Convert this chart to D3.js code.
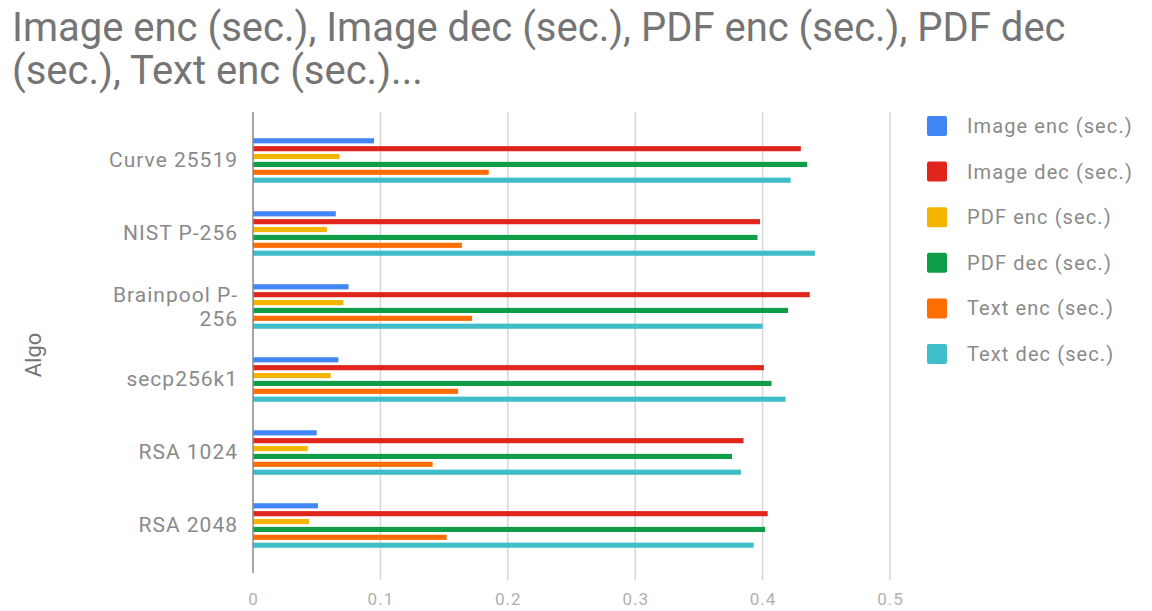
<!DOCTYPE html>
<html>
<head>
<meta charset="utf-8">
<script src="https://cdn.jsdelivr.net/npm/d3@7"></script>
<style>
  html, body { margin: 0; padding: 0; background: #fff; }
  svg { display: block; font-family: Roboto, "Noto Sans", Arial, sans-serif; }
</style>
</head>
<body>
<svg id="chart" width="1152" height="611"></svg>
<script>
const categories = ["Curve 25519", "NIST P-256", "Brainpool P-256", "secp256k1", "RSA 1024", "RSA 2048"];
const seriesNames = ["Image enc (sec.)", "Image dec (sec.)", "PDF enc (sec.)", "PDF dec (sec.)", "Text enc (sec.)", "Text dec (sec.)"];
const imageEnc = [0.095, 0.065, 0.075, 0.067, 0.050, 0.051];
const imageDec = [0.430, 0.398, 0.437, 0.401, 0.385, 0.404];
const pdfEnc   = [0.068, 0.058, 0.071, 0.061, 0.043, 0.044];
const pdfDec   = [0.435, 0.396, 0.420, 0.407, 0.376, 0.402];
const textEnc  = [0.185, 0.164, 0.172, 0.161, 0.141, 0.152];
const textDec  = [0.422, 0.441, 0.400, 0.418, 0.383, 0.393];
const xTicks = [0, 0.1, 0.2, 0.3, 0.4, 0.5];
const titleLines = ["Image enc (sec.), Image dec (sec.), PDF enc (sec.), PDF dec", "(sec.), Text enc (sec.)..."];
const yAxisTitle = "Algo";
const colors = ["#4285f4", "#e0261c", "#f4b400", "#0f9d48", "#ff6d00", "#3fbdc8"];

const seriesValues = [imageEnc, imageDec, pdfEnc, pdfDec, textEnc, textDec];

const svg = d3.select("#chart");

// Title
const title = svg.append("text")
  .attr("x", 12).attr("y", 41)
  .attr("fill", "#757575")
  .style("font-size", "40px");
title.selectAll("tspan").data(titleLines).join("tspan")
  .attr("x", 12)
  .attr("dy", (d, i) => i === 0 ? 0 : 43)
  .text(d => d);

// Scales
const x = d3.scaleLinear().domain([0, 0.5]).range([253, 890]);
const y0 = d3.scaleBand().domain(categories).range([124, 562]).paddingInner(0.39).paddingOuter(0.195);
const y1 = d3.scaleBand().domain(d3.range(seriesNames.length)).range([0, y0.bandwidth()]).paddingInner(0.35);

const plotTop = 112, plotBottom = 573;

// Gridlines
svg.append("g").selectAll("line")
  .data(xTicks.filter(t => t > 0)).join("line")
  .attr("x1", d => x(d)).attr("x2", d => x(d))
  .attr("y1", plotTop).attr("y2", 580)
  .attr("stroke", "#d6d6d6").attr("stroke-width", 1.5);

// X axis tick labels
const xAxis = d3.axisBottom(x).tickValues(xTicks).tickSize(0).tickPadding(0)
  .tickFormat(d => d === 0 ? "0" : d3.format(".1f")(d));
const gx = svg.append("g").attr("transform", `translate(0,593)`).call(xAxis);
gx.select(".domain").remove();
gx.selectAll("text").attr("fill", "#b0b0b0").style("font-size", "17px")
  .style("letter-spacing", "1px")
  .style("font-family", "Roboto, sans-serif");

// Bars
const groups = svg.append("g").selectAll("g")
  .data(categories).join("g")
  .attr("transform", d => `translate(0,${y0(d)})`);
groups.selectAll("rect")
  .data((c, ci) => seriesValues.map((vals, si) => ({ si, v: vals[ci] })))
  .join("rect")
  .attr("x", x(0))
  .attr("y", d => y1(d.si))
  .attr("width", d => x(d.v) - x(0))
  .attr("height", y1.bandwidth())
  .attr("fill", d => colors[d.si]);

// Baseline axis
svg.append("line")
  .attr("x1", x(0)).attr("x2", x(0))
  .attr("y1", plotTop).attr("y2", plotBottom)
  .attr("stroke", "#8a8a8a").attr("stroke-width", 1.5);

// Category labels (wrap long ones after the hyphen)
const yAxis = d3.axisLeft(y0).tickSize(0).tickPadding(0);
const gy = svg.append("g").attr("transform", `translate(238,0)`).call(yAxis);
gy.select(".domain").remove();
gy.selectAll("text")
  .attr("fill", "#8a8a8a").style("font-size", "21px")
  .style("letter-spacing", "1px")
  .style("font-family", "Roboto, sans-serif")
  .each(function(d) {
    const t = d3.select(this);
    if (d.length > 12 && d.lastIndexOf("-") > 0) {
      const k = d.lastIndexOf("-") + 1;
      const parts = [d.slice(0, k), d.slice(k)];
      t.text(null).attr("dy", null);
      parts.forEach((p, i) => {
        t.append("tspan").attr("x", 0)
          .attr("dy", i === 0 ? "-0.22em" : "1.15em").text(p);
      });
    }
  });

// Y axis title
svg.append("text")
  .attr("transform", "translate(41,355) rotate(-90)")
  .attr("text-anchor", "middle")
  .attr("fill", "#757575").style("font-size", "22px")
  .text(yAxisTitle);

// Legend
const legend = svg.append("g").selectAll("g")
  .data(seriesNames).join("g")
  .attr("transform", (d, i) => `translate(927,${116 + i * 45.6})`);
legend.append("rect").attr("width", 20).attr("height", 20).attr("rx", 2)
  .attr("fill", (d, i) => colors[i]);
legend.append("text").attr("x", 40).attr("y", 17)
  .attr("fill", "#8a8a8a").style("font-size", "20px")
  .style("letter-spacing", "1.1px")
  .text(d => d);
</script>
</body>
</html>
